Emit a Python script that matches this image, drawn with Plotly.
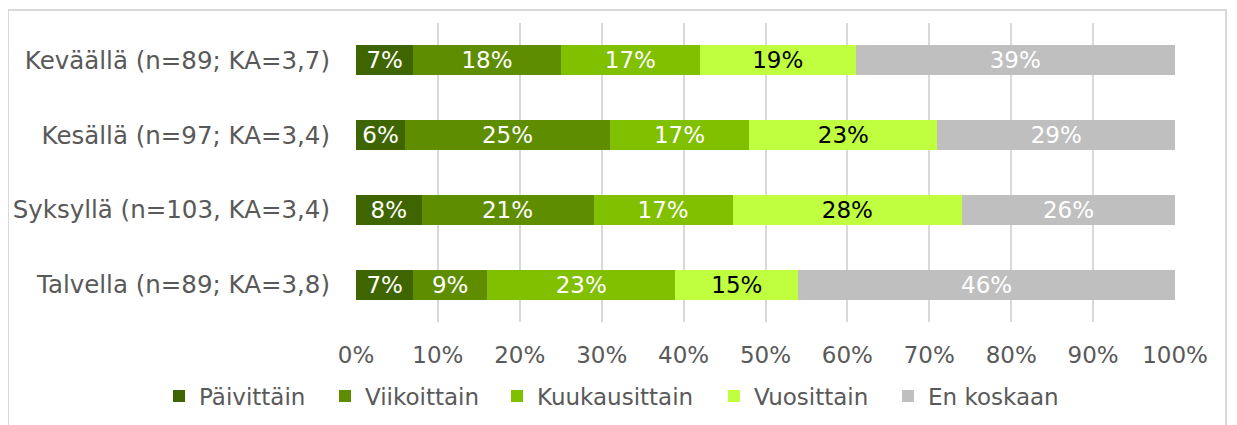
import plotly.graph_objects as go

categories = ["Keväällä (n=89; KA=3,7)", "Kesällä (n=97; KA=3,4)",
              "Syksyllä (n=103, KA=3,4)", "Talvella (n=89; KA=3,8)"]
series_names = ["Päivittäin", "Viikoittain", "Kuukausittain", "Vuosittain", "En koskaan"]
paivittain = [7, 6, 8, 7]
viikoittain = [18, 25, 21, 9]
kuukausittain = [17, 17, 17, 23]
vuosittain = [19, 23, 28, 15]
en_koskaan = [39, 29, 26, 46]
tick_vals = [0, 10, 20, 30, 40, 50, 60, 70, 80, 90, 100]
tick_text = [f"{v}%" for v in tick_vals]

series_values = [paivittain, viikoittain, kuukausittain, vuosittain, en_koskaan]
colors = ["#3f6500", "#5e8e00", "#80c000", "#bfff40", "#bfbfbf"]
text_colors = ["white", "white", "white", "black", "white"]
# legend entry left edges (screen px) -- layout only
legend_left_px = [159, 325, 497, 714, 888]

FONT = "DejaVu Sans"
OFF = 8  # page body margin offset
L, R, T, B = 356 - OFF, 62 + OFF, 23 - OFF, 103 + OFF
PW, PH = 1237 - L - R, 425 - T - B
legend_y = -(396 - OFF - (425 - B)) / PH

fig = go.Figure()
legend_layouts = {}
for i, (name, vals, col, tcol) in enumerate(zip(series_names, series_values, colors, text_colors)):
    lname = "legend" if i == 0 else f"legend{i + 1}"
    fig.add_trace(go.Bar(
        y=categories, x=vals, name=name, orientation="h",
        marker=dict(color=col, line=dict(width=0)),
        text=[f"{v}%" for v in vals], textposition="inside",
        insidetextanchor="middle", textangle=0, constraintext="none",
        textfont=dict(family=FONT, size=23, color=tcol),
        legend=lname, showlegend=True,
    ))
    legend_layouts[lname] = dict(
        orientation="h", xref="paper", yref="paper",
        x=(legend_left_px[i] - OFF - L) / PW, xanchor="left",
        y=legend_y, yanchor="middle",
        font=dict(family=FONT, size=23, color="#595959"),
        itemwidth=30, bgcolor="rgba(0,0,0,0)",
    )

fig.update_layout(
    barmode="stack", bargap=0.6,
    width=1237, height=425, showlegend=True,
    margin=dict(l=L, r=R, t=T, b=B, autoexpand=False),
    plot_bgcolor="white", paper_bgcolor="white",
    font=dict(family=FONT, size=23, color="#595959"),
    uniformtext=dict(minsize=20, mode="show"),
    xaxis=dict(range=[0, 100], tickvals=tick_vals, ticktext=tick_text,
               showgrid=True, gridcolor="#d9d9d9", gridwidth=2, zeroline=False,
               showline=False, ticks="", ticklabelstandoff=17,
               tickfont=dict(family=FONT, size=23, color="#595959")),
    yaxis=dict(categoryorder="array", categoryarray=categories[::-1],
               showgrid=False, ticks="", ticklabelstandoff=25,
               tickfont=dict(family=FONT, size=24.5, color="#595959")),
    shapes=[dict(type="rect", xref="paper", yref="paper",
                 x0=(8 - 356) / 819, x1=(1226 - 356) / 819,
                 y0=-0.5, y1=(322 - 10) / 299,
                 line=dict(color="#d9d9d9", width=2), fillcolor="rgba(0,0,0,0)",
                 layer="below")],
    **legend_layouts,
)
fig.write_html("out.html")
